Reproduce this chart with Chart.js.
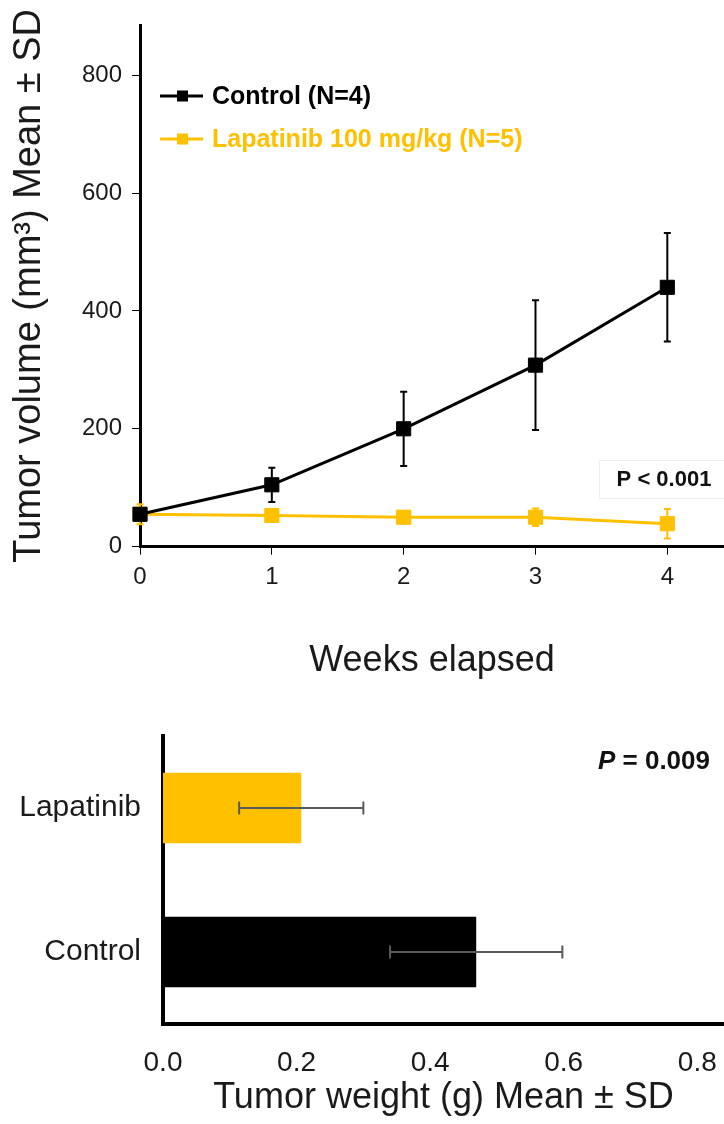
<!DOCTYPE html>
<html>
<head>
<meta charset="utf-8">
<script src="https://cdn.jsdelivr.net/npm/chart.js@4.4.1/dist/chart.umd.min.js"></script>
<style>
  html, body { margin: 0; padding: 0; background: #fff; }
  #wrap { position: relative; width: 724px; height: 1124px; }
  canvas { position: absolute; left: 0; }
</style>
</head>
<body>
<div id="wrap">
  <canvas id="growth" width="724" height="700" style="top:0"></canvas>
  <canvas id="weight" width="724" height="424" style="top:700px"></canvas>
</div>
<script>
// Tumor growth (top)
const weeks = [0, 1, 2, 3, 4];
const controlMean = [55, 105, 200, 308, 440];
const controlSD = [5, 29, 63, 110, 92];
const lapatinibMean = [55, 53, 50, 50, 39];
const lapatinibSD = [17, 5, 5, 15, 25];
const volumeTicks = [0, 200, 400, 600, 800];

// Tumor weight (bottom)
const groups = ['Lapatinib', 'Control'];
const weightMean = [0.207, 0.469];
const weightSD = [0.093, 0.129];
const weightTicks = [0, 0.2, 0.4, 0.6, 0.8];

const FONT = "'Liberation Sans', Arial, sans-serif";
const GOLD = '#FFC000';
const INK = '#1a1a1a';

Chart.defaults.font.family = FONT;
Chart.defaults.color = INK;
Chart.defaults.animation = false;

// keep the x axis running right to the canvas edge
const noSidePad = (s) => { s.paddingLeft = 0; s.paddingRight = 0; };

// error bars for the line chart, drawn just under each dataset
const lineErrorBars = {
  id: 'lineErrorBars',
  beforeDatasetDraw(chart, args) {
    const ds = chart.data.datasets[args.index];
    const y = chart.scales.y;
    const ctx = chart.ctx;
    ctx.save();
    ctx.strokeStyle = ds.borderColor;
    ctx.lineWidth = 2;
    args.meta.data.forEach((pt, j) => {
      const v = ds.data[j].y, sd = ds.sd[j];
      const top = y.getPixelForValue(v + sd), bot = y.getPixelForValue(v - sd);
      ctx.beginPath();
      ctx.moveTo(pt.x, top); ctx.lineTo(pt.x, bot);
      ctx.moveTo(pt.x - 3.5, top); ctx.lineTo(pt.x + 3.5, top);
      ctx.moveTo(pt.x - 3.5, bot); ctx.lineTo(pt.x + 3.5, bot);
      ctx.stroke();
    });
    ctx.restore();
  }
};

// legend and p-value text for the line chart
const growthExtras = {
  id: 'growthExtras',
  afterDraw(chart) {
    const ctx = chart.ctx;
    ctx.save();
    const rows = [96, 139];
    chart.data.datasets.forEach((ds, i) => {
      const yy = rows[i];
      ctx.strokeStyle = ds.borderColor;
      ctx.lineWidth = 3;
      ctx.beginPath(); ctx.moveTo(160, yy); ctx.lineTo(203, yy); ctx.stroke();
      ctx.fillStyle = ds.borderColor;
      ctx.fillRect(177, yy - 5.5, 11, 11);
      ctx.font = 'bold 25px ' + FONT;
      ctx.textBaseline = 'middle';
      ctx.textAlign = 'left';
      ctx.fillStyle = i === 0 ? '#000' : GOLD;
      ctx.fillText(ds.label, 212, yy + 1);
    });
    ctx.strokeStyle = '#eeeeee';
    ctx.lineWidth = 1;
    ctx.strokeRect(599.5, 460.5, 130, 38);
    ctx.fillStyle = '#111';
    ctx.font = 'bold 22px ' + FONT;
    ctx.textAlign = 'center';
    ctx.textBaseline = 'middle';
    ctx.fillText('P < 0.001', 664, 480);
    ctx.restore();
  }
};

new Chart(document.getElementById('growth'), {
  type: 'line',
  data: {
    datasets: [{
      label: 'Control (N=4)',
      data: weeks.map((w, i) => ({ x: w, y: controlMean[i] })),
      sd: controlSD,
      borderColor: '#000000',
      backgroundColor: '#000000',
      borderWidth: 3,
      pointStyle: 'rect',
      pointRadius: 10,
      pointBorderWidth: 1,
      clip: false
    }, {
      label: 'Lapatinib 100 mg/kg (N=5)',
      data: weeks.map((w, i) => ({ x: w, y: lapatinibMean[i] })),
      sd: lapatinibSD,
      borderColor: GOLD,
      backgroundColor: GOLD,
      borderWidth: 3,
      pointStyle: 'rect',
      pointRadius: 10,
      pointBorderWidth: 1,
      clip: false
    }]
  },
  options: {
    responsive: false,
    layout: { autoPadding: false, padding: { top: 25, left: 3, right: 0, bottom: 13 } },
    plugins: { legend: { display: false }, tooltip: { enabled: false } },
    scales: {
      x: {
        type: 'linear',
        min: 0,
        max: 4.43,
        afterFit: (s) => { s.height = 700 - 13 - 546.7; noSidePad(s); },
        border: { color: '#000', width: 3 },
        grid: { drawOnChartArea: false, tickLength: 8, color: '#000', tickWidth: 1 },
        afterBuildTicks: (s) => { s.ticks = weeks.map(v => ({ value: v })); },
        ticks: { padding: 8, font: { size: 24 }, color: INK, maxRotation: 0 },
        title: { display: true, text: 'Weeks elapsed', font: { size: 36 }, color: INK }
      },
      y: {
        min: 0,
        max: 885,
        afterFit: (s) => { s.width = 140 - 3; },
        border: { color: '#000', width: 3 },
        grid: { drawOnChartArea: false, tickLength: 8, color: '#000', tickWidth: 1 },
        afterBuildTicks: (s) => { s.ticks = volumeTicks.map(v => ({ value: v })); },
        ticks: { padding: 10, font: { size: 24 }, color: INK },
        title: { display: true, text: 'Tumor volume (mm³) Mean ± SD', font: { size: 38 }, color: INK }
      }
    }
  },
  plugins: [lineErrorBars, growthExtras]
});

// error bars and p-value for the bar chart
const barErrorBars = {
  id: 'barErrorBars',
  afterDatasetsDraw(chart) {
    const ctx = chart.ctx;
    const x = chart.scales.x;
    const meta = chart.getDatasetMeta(0);
    ctx.save();
    ctx.strokeStyle = '#595959';
    ctx.lineWidth = 2;
    meta.data.forEach((bar, j) => {
      const l = x.getPixelForValue(weightMean[j] - weightSD[j]);
      const r = x.getPixelForValue(weightMean[j] + weightSD[j]);
      ctx.beginPath();
      ctx.moveTo(l, bar.y); ctx.lineTo(r, bar.y);
      ctx.moveTo(l, bar.y - 6.5); ctx.lineTo(l, bar.y + 6.5);
      ctx.moveTo(r, bar.y - 6.5); ctx.lineTo(r, bar.y + 6.5);
      ctx.stroke();
    });
    ctx.fillStyle = '#111';
    ctx.textBaseline = 'middle';
    ctx.textAlign = 'left';
    ctx.font = 'bold 26px ' + FONT;
    const rest = ' = 0.009';
    const wRest = ctx.measureText(rest).width;
    ctx.font = 'italic bold 26px ' + FONT;
    const wP = ctx.measureText('P').width;
    const x0 = 710 - wRest - wP;
    ctx.fillText('P', x0, 62);
    ctx.font = 'bold 26px ' + FONT;
    ctx.fillText(rest, x0 + wP, 62);
    ctx.restore();
  }
};

new Chart(document.getElementById('weight'), {
  type: 'bar',
  data: {
    labels: groups,
    datasets: [{
      data: weightMean,
      backgroundColor: [GOLD, '#000000'],
      borderWidth: 0,
      barPercentage: 0.98,
      categoryPercentage: 0.5
    }]
  },
  options: {
    indexAxis: 'y',
    responsive: false,
    layout: { padding: { top: 36, left: 0, right: 0, bottom: 0 } },
    plugins: { legend: { display: false }, tooltip: { enabled: false } },
    scales: {
      x: {
        min: 0,
        max: 0.84,
        afterFit: (s) => { s.height = 100; noSidePad(s); },
        border: { color: '#000', width: 4 },
        grid: { display: false },
        afterBuildTicks: (s) => { s.ticks = weightTicks.map(v => ({ value: v })); },
        ticks: { padding: 14, font: { size: 28 }, color: INK, callback: (v) => Number(v).toFixed(1), maxRotation: 0 },
        title: { display: true, text: 'Tumor weight (g) Mean ± SD', font: { size: 36 }, color: INK }
      },
      y: {
        afterFit: (s) => { s.width = 163; },
        border: { color: '#000', width: 4 },
        grid: { display: false },
        ticks: { padding: 14, font: { size: 30 }, color: INK }
      }
    }
  },
  plugins: [barErrorBars]
});
</script>
</body>
</html>
